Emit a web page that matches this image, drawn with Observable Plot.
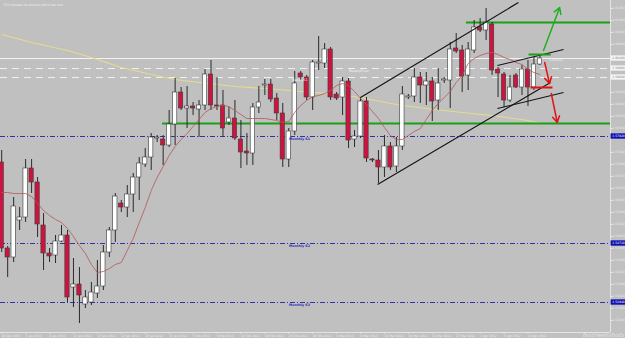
<!DOCTYPE html>
<html><head><meta charset="utf-8">
<script src="https://cdn.jsdelivr.net/npm/d3@7"></script>
<script src="https://cdn.jsdelivr.net/npm/@observablehq/plot@0.6"></script>
<style>
html,body{margin:0;padding:0;background:#c0c0c0;overflow:hidden;}
#chart svg{display:block;font-family:"DejaVu Sans",sans-serif;}
</style>
</head><body><div id="chart"></div>
<script>
// Daily candles, 28 Dec 2011 .. 12 Apr 2012 (index 0..90)
const opens  = [1.5714,1.5456,1.5429,1.5540,1.5549,1.5696,1.5654,1.5525,1.5441,1.5435,1.5477,1.5495,1.5339,1.5348,1.5288,1.5294,1.5321,1.5342,1.5444,1.5510,1.5591,1.5579,1.5618,1.5669,1.5708,1.5729,1.5786,1.5783,1.5765,1.5828,1.5924,1.5876,1.5882,1.5873,1.5885,1.5978,1.5885,1.5885,1.5834,1.5846,1.5783,1.5747,1.5741,1.5879,1.5945,1.5948,1.5906,1.5861,1.5723,1.5807,1.5981,1.5969,1.5909,1.6011,1.6011,1.6053,1.5918,1.5909,1.5957,1.5783,1.5792,1.5897,1.5723,1.5720,1.5699,1.5762,1.5702,1.5762,1.5909,1.5912,1.5969,1.5945,1.5957,1.5900,1.5960,1.5960,1.6056,1.6050,1.5975,1.6050,1.6119,1.6110,1.6128,1.5993,1.5978,1.5900,1.5975,1.5939,1.5993,1.5939,1.6008];
const highs  = [1.5750,1.5462,1.5609,1.5579,1.5723,1.5723,1.5669,1.5561,1.5456,1.5495,1.5525,1.5510,1.5426,1.5399,1.5330,1.5354,1.5420,1.5465,1.5519,1.5621,1.5600,1.5645,1.5681,1.5729,1.5756,1.5801,1.5795,1.5795,1.5870,1.5966,1.5939,1.5942,1.5894,1.5900,1.5993,1.6020,1.5969,1.5930,1.5879,1.5900,1.5840,1.5801,1.5891,1.5942,1.5963,1.5963,1.5921,1.5891,1.5816,1.5987,1.5987,1.5975,1.6020,1.6092,1.6071,1.6059,1.5924,1.5969,1.5966,1.5810,1.5909,1.5909,1.5726,1.5750,1.5795,1.5774,1.5789,1.5942,1.5918,1.5996,1.5984,1.5984,1.5969,1.5996,1.5969,1.6074,1.6101,1.6065,1.6074,1.6140,1.6146,1.6176,1.6134,1.5999,1.5984,1.5975,1.5981,1.6005,1.6020,1.6029,1.6032];
const lows   = [1.5444,1.5369,1.5414,1.5510,1.5534,1.5621,1.5489,1.5390,1.5414,1.5411,1.5474,1.5294,1.5279,1.5231,1.5276,1.5285,1.5306,1.5330,1.5429,1.5474,1.5564,1.5549,1.5564,1.5600,1.5699,1.5690,1.5774,1.5705,1.5759,1.5765,1.5870,1.5816,1.5855,1.5789,1.5870,1.5870,1.5870,1.5789,1.5825,1.5780,1.5696,1.5705,1.5705,1.5861,1.5915,1.5894,1.5840,1.5699,1.5699,1.5795,1.5960,1.5900,1.5870,1.5990,1.5996,1.5900,1.5900,1.5855,1.5756,1.5759,1.5786,1.5714,1.5714,1.5651,1.5669,1.5690,1.5684,1.5750,1.5903,1.5894,1.5891,1.5885,1.5837,1.5870,1.5951,1.5876,1.6041,1.5924,1.5930,1.6041,1.6104,1.6080,1.5975,1.5909,1.5879,1.5894,1.5936,1.5915,1.5882,1.5930,1.6005];
const closes = [1.5456,1.5429,1.5582,1.5549,1.5696,1.5654,1.5528,1.5441,1.5432,1.5477,1.5495,1.5309,1.5348,1.5315,1.5309,1.5324,1.5342,1.5444,1.5510,1.5612,1.5579,1.5618,1.5669,1.5711,1.5729,1.5789,1.5789,1.5765,1.5828,1.5924,1.5876,1.5882,1.5876,1.5885,1.5978,1.5885,1.5882,1.5816,1.5846,1.5786,1.5744,1.5741,1.5879,1.5894,1.5948,1.5903,1.5861,1.5723,1.5807,1.5951,1.5969,1.5909,1.6014,1.6014,1.6053,1.5909,1.5906,1.5957,1.5780,1.5792,1.5897,1.5726,1.5720,1.5699,1.5762,1.5699,1.5762,1.5918,1.5912,1.5969,1.5945,1.5957,1.5897,1.5951,1.5963,1.6053,1.6047,1.5972,1.6053,1.6119,1.6110,1.6134,1.5990,1.5981,1.5900,1.5939,1.5939,1.5993,1.5939,1.6008,1.6026];

// thin red moving average (one value per candle)
const redMA = [1.5624,1.5624,1.5621,1.5621,1.5621,1.5612,1.5591,1.5570,1.5555,1.5543,1.5534,1.5516,1.5492,1.5465,1.5441,1.5408,1.5384,1.5387,1.5396,1.5408,1.5414,1.5450,1.5486,1.5534,1.5579,1.5630,1.5669,1.5702,1.5735,1.5762,1.5783,1.5801,1.5822,1.5843,1.5864,1.5876,1.5882,1.5885,1.5882,1.5870,1.5858,1.5846,1.5846,1.5846,1.5846,1.5843,1.5840,1.5834,1.5837,1.5864,1.5885,1.5900,1.5912,1.5915,1.5921,1.5930,1.5945,1.5951,1.5945,1.5927,1.5906,1.5888,1.5867,1.5846,1.5819,1.5795,1.5783,1.5783,1.5795,1.5807,1.5816,1.5843,1.5870,1.5891,1.5909,1.5927,1.5954,1.5975,1.6011,1.6026,1.6035,1.6041,1.6044,1.6038,1.6029,1.6023,1.6014,1.6008,1.5993,1.5984,1.5978];

// slow yellow moving average, read at these candle indexes
const yellowIdx = [0,5,11,15,20,25,29,33,39,44,50,55,60,66,71,77,82,88,90];
const yellowMA  = [1.6098,1.6074,1.6050,1.6029,1.5999,1.5978,1.5963,1.5954,1.5942,1.5936,1.5927,1.5921,1.5909,1.5888,1.5876,1.5864,1.5855,1.5840,1.5831];

// x axis labels (one every 4 candles)
const dateLabels = ["28 Dec 2011","3 Jan 2012","8 Jan 2012","12 Jan 2012","17 Jan 2012","22 Jan 2012","26 Jan 2012","31 Jan 2012","5 Feb 2012","9 Feb 2012","14 Feb 2012","19 Feb 2012","23 Feb 2012","28 Feb 2012","4 Mar 2012","8 Mar 2012","13 Mar 2012","18 Mar 2012","22 Mar 2012","27 Mar 2012","1 Apr 2012","5 Apr 2012","10 Apr 2012"];

// price axis ticks (those hidden behind level boxes are left out)
const priceTicks = [1.6176,1.6140,1.6104,1.6068,1.5924,1.5888,1.5852,1.5816,1.5744,1.5708,1.5672,1.5636,1.5600,1.5564,1.5528,1.5492,1.5456,1.5420,1.5384,1.5348,1.5312,1.5276,1.5240];

// horizontal levels
const bidPrice = 1.6026;
const weeklyLevels = [1.5996, 1.5969];
const weeklyNames = ["WeeklyPivot", "WeeklyS1"];
const weeklyLabelIdx = [59.7, 49.8];
const monthlyLevels = [1.5792, 1.5471, 1.5294];
const monthlyNames = ["Monthly S1", "Monthly S2", "Monthly S3"];

// drawn annotations: [idx1, price1, idx2, price2]
const greenLevels = [[26.9, 1.5831], [77.7, 1.6134]];
const channelLines = [[60.0,1.5909,86.4,1.6194],[62.85,1.5648,91.77,1.5954],[82.9,1.6005,93.95,1.6053],[82.9,1.5876,93.95,1.5924]];
const greenMark = [[88.1,1.6038,91.8,1.6038]];
const redMark = [[88.4,1.5939,92.1,1.5939]];
const greenArrows = [[90.6,1.6050,93.3,1.6179]];
const redArrows = [[90.8,1.6014,91.6,1.5951],[91.9,1.5921,92.9,1.5834]];

const candles = opens.map((o, i) => ({i, open: o, high: highs[i], low: lows[i], close: closes[i]}));
const yellow = yellowIdx.map((i, k) => ({i, v: yellowMA[k]}));
const red = redMA.map((v, i) => ({i, v}));
const tickIdx = dateLabels.map((d, k) => k * 4);

const X0 = -0.2, X1 = 101.8, Y0 = 1.5204, Y1 = 1.6200;
const boxes = [
  ...[bidPrice, ...weeklyLevels].map(v => ({v, fill: "#f4f4f4", text: "#8a8a8a"})),
  ...monthlyLevels.map(v => ({v, fill: "#1010b0", text: "#ffffff"}))
];
const seg = a => a.map(([x1, y1, x2, y2]) => ({x1, y1, x2, y2}));

const chart = Plot.plot({
  width: 625, height: 338,
  marginTop: 0, marginRight: 15, marginBottom: 6, marginLeft: 0,
  style: {background: "#c0c0c0", color: "#ececec", fontSize: "3px"},
  x: {domain: [X0, X1], range: [0, 610]},
  y: {domain: [Y0, Y1], range: [332, 0]},
  marks: [
    Plot.ruleY(monthlyLevels, {stroke: "#3232a8", strokeWidth: 1, strokeDasharray: "5,2,1,2"}),
    Plot.ruleY(weeklyLevels, {stroke: "#f0f0f0", strokeWidth: 1, strokeDasharray: "7,5"}),
    Plot.ruleY([bidPrice], {stroke: "#f2f2f2", strokeWidth: 1}),
    Plot.line(yellow, {x: "i", y: "v", stroke: "#e4dc8c", strokeWidth: 1.1}),
    Plot.ruleY(greenLevels, {y: d => d[1], x1: d => d[0], x2: X1, stroke: "#19a019", strokeWidth: 2}),
    Plot.ruleX(candles, {x: "i", y1: "low", y2: "high", stroke: "#2a2a2a", strokeWidth: 1}),
    Plot.rect(candles, {filter: d => d.close >= d.open, x1: d => d.i - 0.36, x2: d => d.i + 0.36, y1: "open", y2: "close", fill: "#ffffff", stroke: "#3a3a3a", strokeWidth: 0.6}),
    Plot.rect(candles, {filter: d => d.close < d.open, x1: d => d.i - 0.36, x2: d => d.i + 0.36, y1: "open", y2: "close", fill: "#cc1440", stroke: "#3a3a3a", strokeWidth: 0.6}),
    Plot.line(red, {x: "i", y: "v", stroke: "#b65656", strokeWidth: 0.8}),
    Plot.link(seg(channelLines), {x1: "x1", y1: "y1", x2: "x2", y2: "y2", stroke: "#111", strokeWidth: 1.1}),
    Plot.link(seg(greenMark), {x1: "x1", y1: "y1", x2: "x2", y2: "y2", stroke: "#19a019", strokeWidth: 2}),
    Plot.link(seg(redMark), {x1: "x1", y1: "y1", x2: "x2", y2: "y2", stroke: "#e01414", strokeWidth: 2}),
    Plot.arrow(seg(greenArrows), {x1: "x1", y1: "y1", x2: "x2", y2: "y2", stroke: "#1eb01e", strokeWidth: 1.5, headLength: 7, bend: 0}),
    Plot.arrow(seg(redArrows), {x1: "x1", y1: "y1", x2: "x2", y2: "y2", stroke: "#e01414", strokeWidth: 1.5, headLength: 7, bend: 0}),
    Plot.text(monthlyLevels, {x: 49.8, y: d => d, text: (d, k) => monthlyNames[k], dy: 2.5, fill: "#2828b8", fontSize: 3.3, fontWeight: "bold"}),
    Plot.text(weeklyLevels, {x: (d, k) => weeklyLabelIdx[k], y: d => d, text: (d, k) => weeklyNames[k], dy: 2.5, fill: "#f4f4f4", fontSize: 3.3}),
    Plot.text([bidPrice], {x: 91.5, y: d => d, text: d => d.toFixed(5), dy: 1.5, fill: "#f4f4f4", fontSize: 3.3, textAnchor: "start"}),
    Plot.ruleX([X1], {stroke: "#e4e4e4", strokeWidth: 1}),
    Plot.ruleY([Y0], {stroke: "#e4e4e4", strokeWidth: 1}),
    Plot.axisY({anchor: "right", ticks: priceTicks, tickFormat: d => d.toFixed(5), tickSize: 1.5, tickPadding: 0.5, fontSize: 3, textAnchor: "start", label: null}),
    Plot.axisX({anchor: "bottom", ticks: tickIdx, tickFormat: d => dateLabels[Math.round(d / 4)], tickSize: 1.5, tickPadding: 0.5, fontSize: 3, textAnchor: "start", label: null}),
    Plot.rect(boxes, {x1: X1 + 0.1, x2: X1 + 2.6, y1: d => d.v - 0.0008, y2: d => d.v + 0.0008, fill: "fill"}),
    Plot.text(boxes, {x: X1 + 0.3, y: "v", text: d => d.v.toFixed(5), fill: "text", fontSize: 3, textAnchor: "start"}),
    Plot.text(["553 minutes 10 seconds left to bar end"], {frameAnchor: "top-left", dx: 3, dy: 3, fill: "#f0f0f0", fontSize: 3, textAnchor: "start"}),
    Plot.text(["fxscreenshots"], {frameAnchor: "bottom-right", dx: 14, dy: 4, fill: "#ffffff", fillOpacity: 0.6, fontSize: 6, fontStyle: "italic", textAnchor: "end"})
  ]
});
document.getElementById("chart").appendChild(chart);
</script>
</body></html>
